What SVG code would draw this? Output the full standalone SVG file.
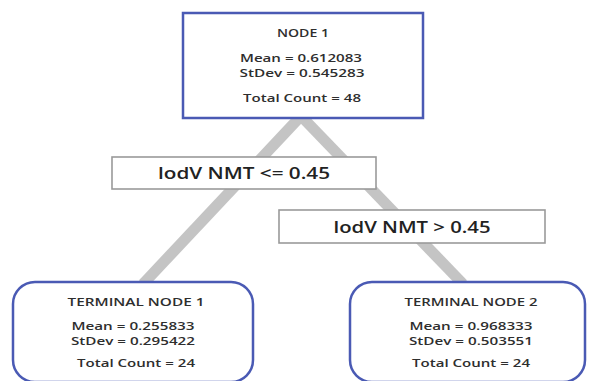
<svg xmlns="http://www.w3.org/2000/svg" width="590" height="381" viewBox="0 0 590 381">
<style>
.node{fill:#fff;stroke:#4a5ab4;stroke-width:2.5}
.lbl{fill:#fff;stroke:#9a9a9a;stroke-width:1.6}
.edge{stroke:#c4c4c4;stroke-width:11;fill:none}
text{font-family:"Open Sans","Liberation Sans",sans-serif;font-weight:600;fill:#2e2e2e;text-anchor:middle}
.t{font-size:10.5px}
.s{font-size:11px}
.b{font-size:17px;fill:#222}
</style>
<rect width="590" height="381" fill="#fff"/>
<g id="connectors">
<line class="edge" x1="300" y1="117" x2="143" y2="284"/>
<line class="edge" x1="302" y1="117" x2="463" y2="284"/>
</g>
<g id="node1">
<rect class="node" x="183" y="13" width="240" height="105"/>
<text class="t" x="303" y="37" textLength="52" lengthAdjust="spacingAndGlyphs">NODE 1</text>
<text class="s" x="301" y="61.5" textLength="122" lengthAdjust="spacingAndGlyphs">Mean = 0.612083</text>
<text class="s" x="302" y="77" textLength="125" lengthAdjust="spacingAndGlyphs">StDev = 0.545283</text>
<text class="s" x="302" y="102" textLength="118" lengthAdjust="spacingAndGlyphs">Total Count = 48</text>
</g>
<g id="split-left">
<rect class="lbl" x="112" y="157" width="264" height="32"/>
<text class="b" x="244" y="179" textLength="172" lengthAdjust="spacingAndGlyphs">lodV NMT &lt;= 0.45</text>
</g>
<g id="split-right">
<rect class="lbl" x="279" y="210" width="266" height="33"/>
<text class="b" x="412" y="233" textLength="157" lengthAdjust="spacingAndGlyphs">lodV NMT &gt; 0.45</text>
</g>
<g id="terminal1">
<rect class="node" x="13" y="282" width="240" height="100" rx="22" ry="22"/>
<text class="t" x="136" y="306" textLength="137" lengthAdjust="spacingAndGlyphs">TERMINAL NODE 1</text>
<text class="s" x="133" y="329.5" textLength="123" lengthAdjust="spacingAndGlyphs">Mean = 0.255833</text>
<text class="s" x="133" y="345" textLength="124" lengthAdjust="spacingAndGlyphs">StDev = 0.295422</text>
<text class="s" x="136" y="367" textLength="118" lengthAdjust="spacingAndGlyphs">Total Count = 24</text>
</g>
<g id="terminal2">
<rect class="node" x="350" y="282" width="235" height="100" rx="22" ry="22"/>
<text class="t" x="471" y="306" textLength="133" lengthAdjust="spacingAndGlyphs">TERMINAL NODE 2</text>
<text class="s" x="471" y="329.5" textLength="123" lengthAdjust="spacingAndGlyphs">Mean = 0.968333</text>
<text class="s" x="471" y="345" textLength="124" lengthAdjust="spacingAndGlyphs">StDev = 0.503551</text>
<text class="s" x="471" y="367" textLength="118" lengthAdjust="spacingAndGlyphs">Total Count = 24</text>
</g>
</svg>
